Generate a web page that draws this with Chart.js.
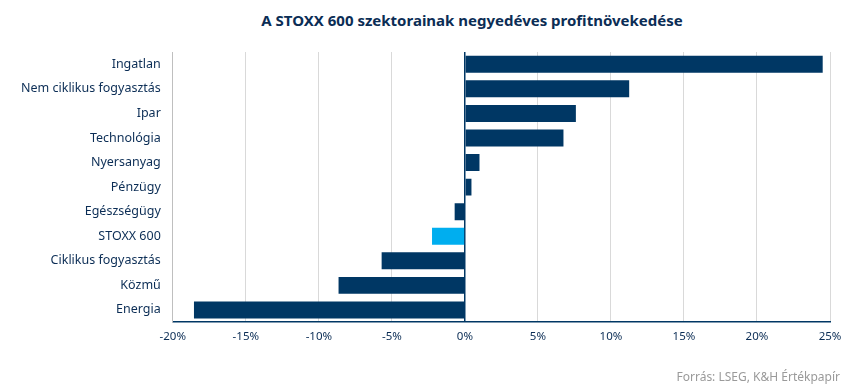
<!DOCTYPE html>
<html>
<head>
<meta charset="utf-8">
<script src="https://cdn.jsdelivr.net/npm/chart.js@4/dist/chart.umd.min.js"></script>
<style>
  html, body { margin: 0; padding: 0; background: #fff; }
  #wrap { position: relative; width: 850px; height: 391px; font-family: "Noto Sans", sans-serif; }
  #title { position: absolute; left: 0; width: 944px; top: 10px; text-align: center; font-weight: bold; font-size: 15px; color: #0b2d55; }
  #source { position: absolute; right: 10px; top: 368px; font-size: 12px; color: #9a9a9a; }
  canvas { position: absolute; left: 0; top: 0; }
</style>
</head>
<body>
<div id="wrap">
  <div id="title">A STOXX 600 szektorainak negyedéves profitnövekedése</div>
  <canvas id="chart" width="850" height="391"></canvas>
  <div id="source">Forrás: LSEG, K&amp;H Értékpapír</div>
</div>
<script>
// sectors, top to bottom
const sectors = ['Ingatlan', 'Nem ciklikus fogyasztás', 'Ipar', 'Technológia', 'Nyersanyag',
  'Pénzügy', 'Egészségügy', 'STOXX 600', 'Ciklikus fogyasztás', 'Közmű', 'Energia'];
// quarterly profit growth, %
const growth = [24.5, 11.25, 7.6, 6.75, 1.0, 0.45, -0.7, -2.25, -5.7, -8.65, -18.55];
const xTicks = [-20, -15, -10, -5, 0, 5, 10, 15, 20, 25];

const navy = '#003764';
const lightBlue = '#00aeef';
const textColor = '#0b2d55';

const barColors = sectors.map(s => s === 'STOXX 600' ? lightBlue : navy);

const ctx = document.getElementById('chart').getContext('2d');
new Chart(ctx, {
  type: 'bar',
  data: {
    labels: sectors,
    datasets: [{
      data: growth,
      backgroundColor: barColors,
      borderWidth: 0,
      barPercentage: 0.69,
      categoryPercentage: 1.0,
    }],
  },
  options: {
    indexAxis: 'y',
    responsive: false,
    animation: false,
    layout: { padding: { top: 52, left: 17, right: 20, bottom: 39 } },
    plugins: {
      legend: { display: false },
      tooltip: { enabled: false },
    },
    scales: {
      x: {
        min: -20,
        max: 25,
        afterBuildTicks: axis => { axis.ticks = xTicks.map(v => ({ value: v })); },
        grid: {
          color: c => c.tick && c.tick.value === 0 ? navy : '#d9d9d9',
          lineWidth: c => c.tick && c.tick.value === 0 ? 1.5 : 1,
          drawTicks: false,
        },
        border: { color: navy, width: 1.5 },
        ticks: {
          color: textColor,
          font: { family: 'Noto Sans', size: 11.5 },
          padding: 8,
          callback: v => v + '%',
        },
      },
      y: {
        grid: { display: false },
        border: { color: '#bfbfbf', width: 1 },
        ticks: {
          color: textColor,
          font: { family: 'Noto Sans', size: 12.5 },
          padding: 4,
        },
      },
    },
  },
});
</script>
</body>
</html>
